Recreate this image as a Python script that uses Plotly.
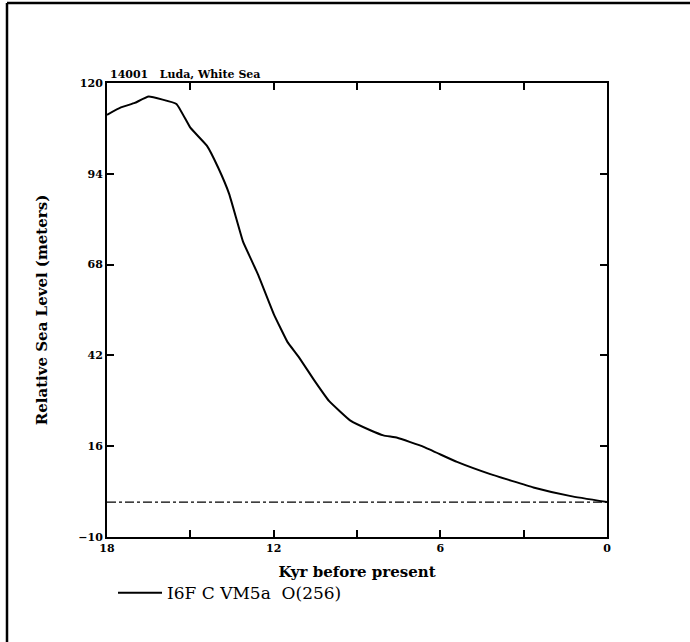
import plotly.graph_objects as go

# Data
kyr_bp = [18.0, 17.5, 17.0, 16.5, 15.5, 15.0, 14.4, 14.0, 13.6, 13.1, 12.8, 12.55,
          12.0, 11.5, 11.1, 10.55, 10.0, 9.25, 8.5, 8.05, 7.55, 6.6, 5.4, 4.2, 2.65, 1.3, 0.0]
rsl_m = [110.9, 113.0, 114.3, 116.1, 114.0, 107.2, 102.0, 95.8, 88.2, 74.5, 69.3, 64.9,
         53.9, 45.8, 41.6, 35.0, 28.9, 23.4, 20.5, 19.1, 18.4, 15.8, 11.5, 8.0, 4.2, 1.7, 0.0]
zero_x = [18, 0]
zero_y = [0, 0]
x_tickvals = [18, 15, 12, 9, 6, 3, 0]
x_ticktext = ["18", "", "12", "", "6", "", "0"]
y_tickvals = [-10, 16, 42, 68, 94, 120]
y_ticktext = ["\u221210", "16", "42", "68", "94", "120"]
series_name = "I6F C VM5a  O(256)"
site_title = "14001&nbsp;&nbsp;&nbsp;Luda, White Sea"

FONT = "DejaVu Serif"

fig = go.Figure()
fig.add_trace(go.Scatter(x=zero_x, y=zero_y, mode="lines",
                         line=dict(color="black", width=1.2, dash="dashdot"),
                         showlegend=False, hoverinfo="skip"))
fig.add_trace(go.Scatter(x=kyr_bp, y=rsl_m, mode="lines", name=series_name,
                         line=dict(color="black", width=2, shape="spline", smoothing=0.3)))

axis_common = dict(showline=True, linecolor="black", linewidth=2, mirror="ticks",
                   ticks="inside", ticklen=7, tickwidth=1.5, tickcolor="black",
                   showgrid=False, zeroline=False, automargin=False,
                   tickfont=dict(family=FONT, size=11, color="black", weight="bold"))

fig.update_xaxes(range=[18, 0], tickmode="array", tickvals=x_tickvals, ticktext=x_ticktext,
                 title=dict(text="Kyr before present", standoff=12,
                            font=dict(family=FONT, size=15, color="black", weight="bold")),
                 **axis_common)
fig.update_yaxes(range=[-10, 120], tickmode="array", tickvals=y_tickvals, ticktext=y_ticktext,
                 title=dict(text="Relative Sea Level (meters)", standoff=27,
                            font=dict(family=FONT, size=15, color="black", weight="bold")),
                 **axis_common)

fig.add_annotation(x=0, y=1, xref="paper", yref="paper", xanchor="left", yanchor="bottom",
                   text=site_title, showarrow=False, xshift=1,
                   font=dict(family=FONT, size=11, color="black", weight="bold"))

# outer frame (left and top edges visible)
fig.add_shape(type="line", xref="paper", yref="paper", x0=-0.2, x1=-0.2, y0=1.176, y1=-0.3,
              line=dict(color="black", width=2.5))
fig.add_shape(type="line", xref="paper", yref="paper", x0=-0.2, x1=1.3, y0=1.176, y1=1.176,
              line=dict(color="black", width=2.5))

fig.update_layout(
    width=690, height=642,
    margin=dict(l=107, r=83, t=83, b=105, autoexpand=False),
    paper_bgcolor="white", plot_bgcolor="white",
    showlegend=True,
    legend=dict(x=0.012, y=-0.084, xanchor="left", yanchor="top", orientation="h",
                bgcolor="rgba(0,0,0,0)", itemwidth=44,
                font=dict(family=FONT, size=17, color="black")),
)

fig.write_html("out.html", config={"displayModeBar": False},
               post_script="document.body.style.margin='0';")
